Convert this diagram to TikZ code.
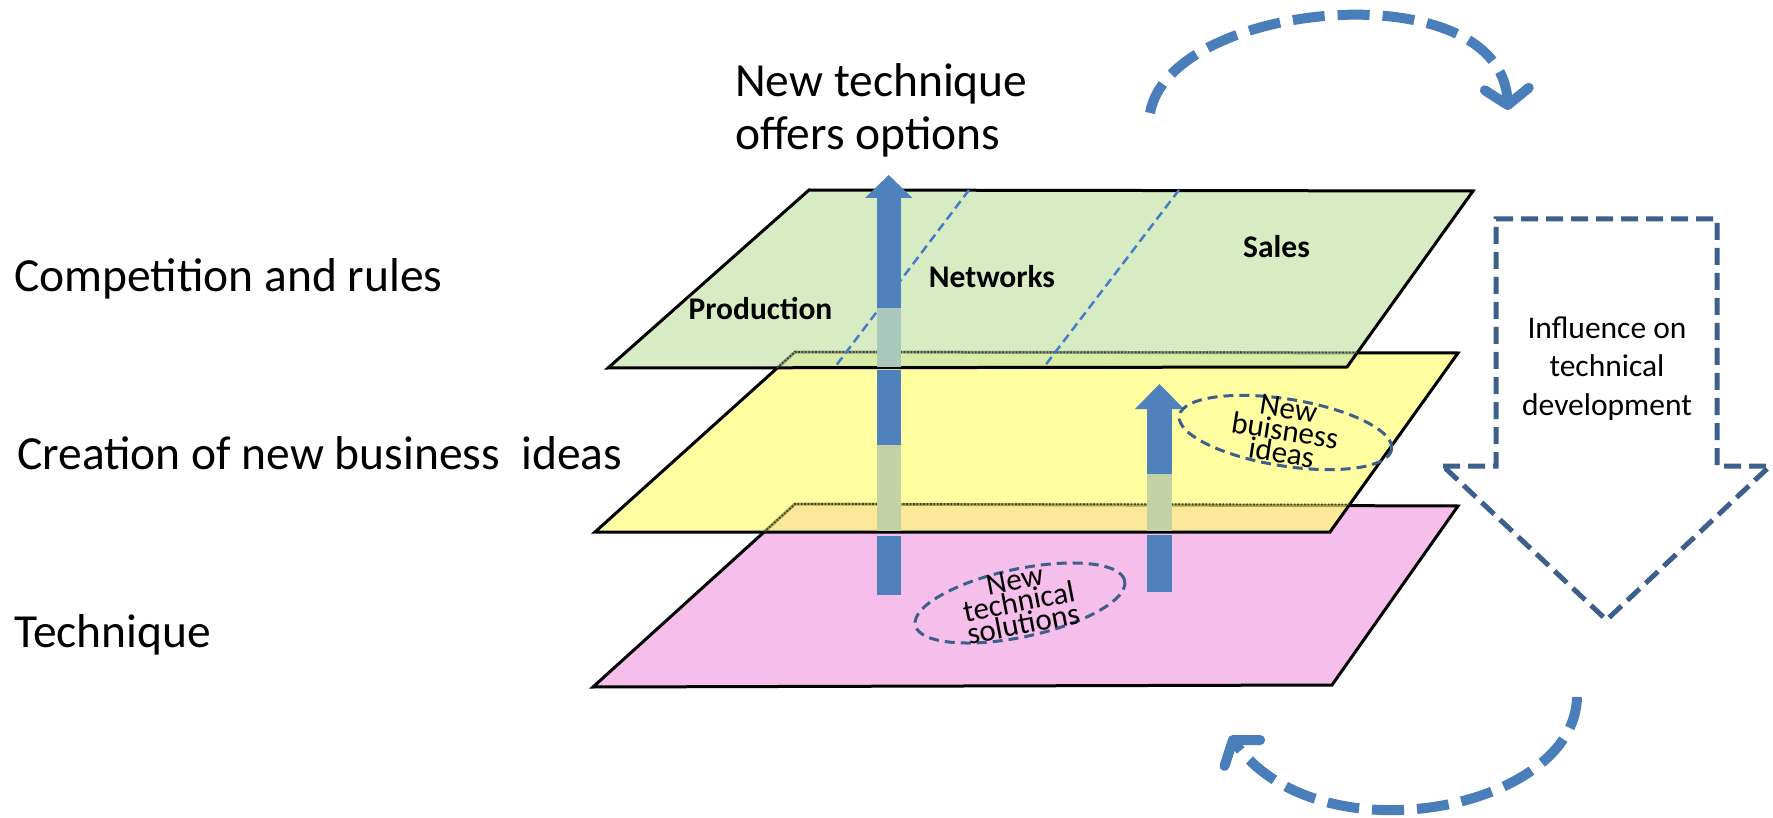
\documentclass[tikz,border=0pt]{standalone}
\usepackage{fontspec}
\setmainfont{Carlito}
\usetikzlibrary{shapes.geometric,arrows.meta}
\definecolor{arrowblue}{RGB}{79,129,189}
\definecolor{coveredgreen}{RGB}{170,200,190}
\definecolor{coveredyellow}{RGB}{195,210,165}
\definecolor{curveblue}{RGB}{74,126,187}
\definecolor{darkdash}{RGB}{60,95,140}
\definecolor{dividerblue}{RGB}{70,125,200}
\definecolor{greenfill}{RGB}{199,228,171}
\definecolor{yellowfill}{RGB}{255,255,110}
\definecolor{pinkfill}{RGB}{245,190,235}
\begin{document}
\begin{tikzpicture}[x=1pt,y=-1pt,
  plane/.style={draw=black,line width=3pt},
  hiddenedge/.style={draw=black!75,line width=1.8pt,dash pattern=on 1.8pt off 1.6pt},
  divider/.style={draw=dividerblue,line width=2.5pt,dash pattern=on 9pt off 5pt},
  solidpart/.style={fill=arrowblue},
  planelabel/.style={font=\bfseries\fontsize{31.5}{36}\selectfont,inner sep=0pt,anchor=base},
  biglabel/.style={font=\fontsize{47.5}{55}\selectfont,inner sep=0pt,anchor=base west},
  infolabel/.style={font=\fontsize{31.5}{38}\selectfont,inner sep=0pt,anchor=base},
  ideaellipse/.style={draw=darkdash,ellipse,line width=3pt,dash pattern=on 10pt off 6pt,inner sep=0pt},
  ideatext/.style={font=\fontsize{31}{22.5}\selectfont,align=center,inner sep=0pt},
  downarrow/.style={draw=darkdash,line width=5pt,dash pattern=on 17pt off 8pt},
  curvearrow/.style={draw=curveblue,line width=10pt,dash pattern=on 32pt off 13pt,
    -{Straight Barb[length=16pt,width=44pt,round]}}
]
\useasboundingbox (0,0) rectangle (1773,818);

% plane corners
\coordinate (gTL) at (809,190);  \coordinate (gTR) at (1473,191);
\coordinate (gBR) at (1347,367); \coordinate (gBL) at (608,368);
\coordinate (yTL) at (795,352);  \coordinate (yTR) at (1458,353);
\coordinate (yBR) at (1330,532); \coordinate (yBL) at (595,532);
\coordinate (pTL) at (795,504);  \coordinate (pTR) at (1458,506);
\coordinate (pBR) at (1332,685); \coordinate (pBL) at (593,687);
% where hidden edges leave the plane above
\coordinate (yTopX) at (1357,352.5); \coordinate (yLeftX) at (777,368);
\coordinate (pTopX) at (1349,504.5); \coordinate (pLeftX) at (764,532);

% planes
\draw[plane,fill=pinkfill] (pTL) -- (pTR) -- (pBR) -- (pBL) -- cycle;
\draw[plane,fill=yellowfill,fill opacity=0.65] (yTL) -- (yTR) -- (yBR) -- (yBL) -- cycle;
\draw[hiddenedge] (pLeftX) -- (pTL) -- (pTopX);
\draw[plane,fill=greenfill,fill opacity=0.7] (gTL) -- (gTR) -- (gBR) -- (gBL) -- cycle;
\draw[hiddenedge] (yLeftX) -- (yTL) -- (yTopX);

% dividers on the top plane
\coordinate (d1t) at (969,190);  \coordinate (d1b) at (835,367);
\coordinate (d2t) at (1179,190); \coordinate (d2b) at (1044,367);
\draw[divider] (d1t) -- (d1b);
\draw[divider] (d2t) -- (d2b);

% main vertical arrow
\fill[solidpart] (865,198) -- (888.7,175) -- (912.4,198) -- cycle;
\fill[solidpart] (876.7,197) rectangle (900.7,308);
\fill[coveredgreen] (876.7,308) rectangle (900.7,367);
\fill[solidpart] (876.7,370) rectangle (900.7,445);
\fill[coveredyellow] (876.7,445) rectangle (900.7,531);
\fill[solidpart] (876.7,536) rectangle (900.7,595);

% second vertical arrow
\fill[solidpart] (1135,409) -- (1159.5,384) -- (1184,409) -- cycle;
\fill[solidpart] (1146.7,408) rectangle (1172.3,474);
\fill[coveredyellow] (1146.7,474) rectangle (1172.3,531);
\fill[solidpart] (1146.7,535) rectangle (1172.3,592);

% plane labels
\node[planelabel] (prod) at (760.5,320) {Production};
\node[planelabel] (netw) at (992,288) {Networks};
\node[planelabel] (sales) at (1276.5,258) {Sales};

% idea ellipses
\node[ideaellipse,minimum width=215pt,minimum height=67pt,rotate=-9] (ebiz) at (1285.5,432.5) {};
\node[ideatext,rotate=-9] (tbiz) at (1285,431) {New\\buisness\\ideas};
\node[ideaellipse,minimum width=214pt,minimum height=68pt,rotate=12] (etech) at (1020,603) {};
\node[ideatext,rotate=11] (ttech) at (1019,602) {New\\technical\\solutions};

% left labels
\node[biglabel] (lcomp) at (14,292) {Competition and rules};
\node[biglabel] (lcrea) at (17,469) {Creation of new business\ \ ideas};
\node[biglabel] (ltech) at (14,647) {Technique};

% top label
\node[biglabel] (topa) at (735,97) {New technique};
\node[biglabel] (topb) at (735,150) {offers options};

% dashed down arrow
\coordinate (aL) at (1443,466); \coordinate (aLi) at (1496,466);
\coordinate (aTL) at (1496,219); \coordinate (aTR) at (1717,219);
\coordinate (aRi) at (1717,466); \coordinate (aR) at (1770,466);
\coordinate (aTip) at (1606.5,620);
\draw[downarrow] (aL) -- (aLi) -- (aTL) -- (aTR) -- (aRi) -- (aR) -- (aTip) -- cycle;
\node[infolabel] (inf1) at (1607,338) {Influence on};
\node[infolabel] (inf2) at (1607,376.5) {technical};
\node[infolabel] (inf3) at (1607,415) {development};

% curved arrows
\coordinate (cts) at (1150,113); \coordinate (cte) at (1508,110);
\draw[curvearrow] (cts) .. controls (1170,0) and (1500,-30) .. (cte);
\coordinate (cbs) at (1577,697); \coordinate (cbe) at (1230,736);
\draw[curvearrow] (cbs) .. controls (1575,810) and (1320,860) .. (cbe);
\end{tikzpicture}
\end{document}
